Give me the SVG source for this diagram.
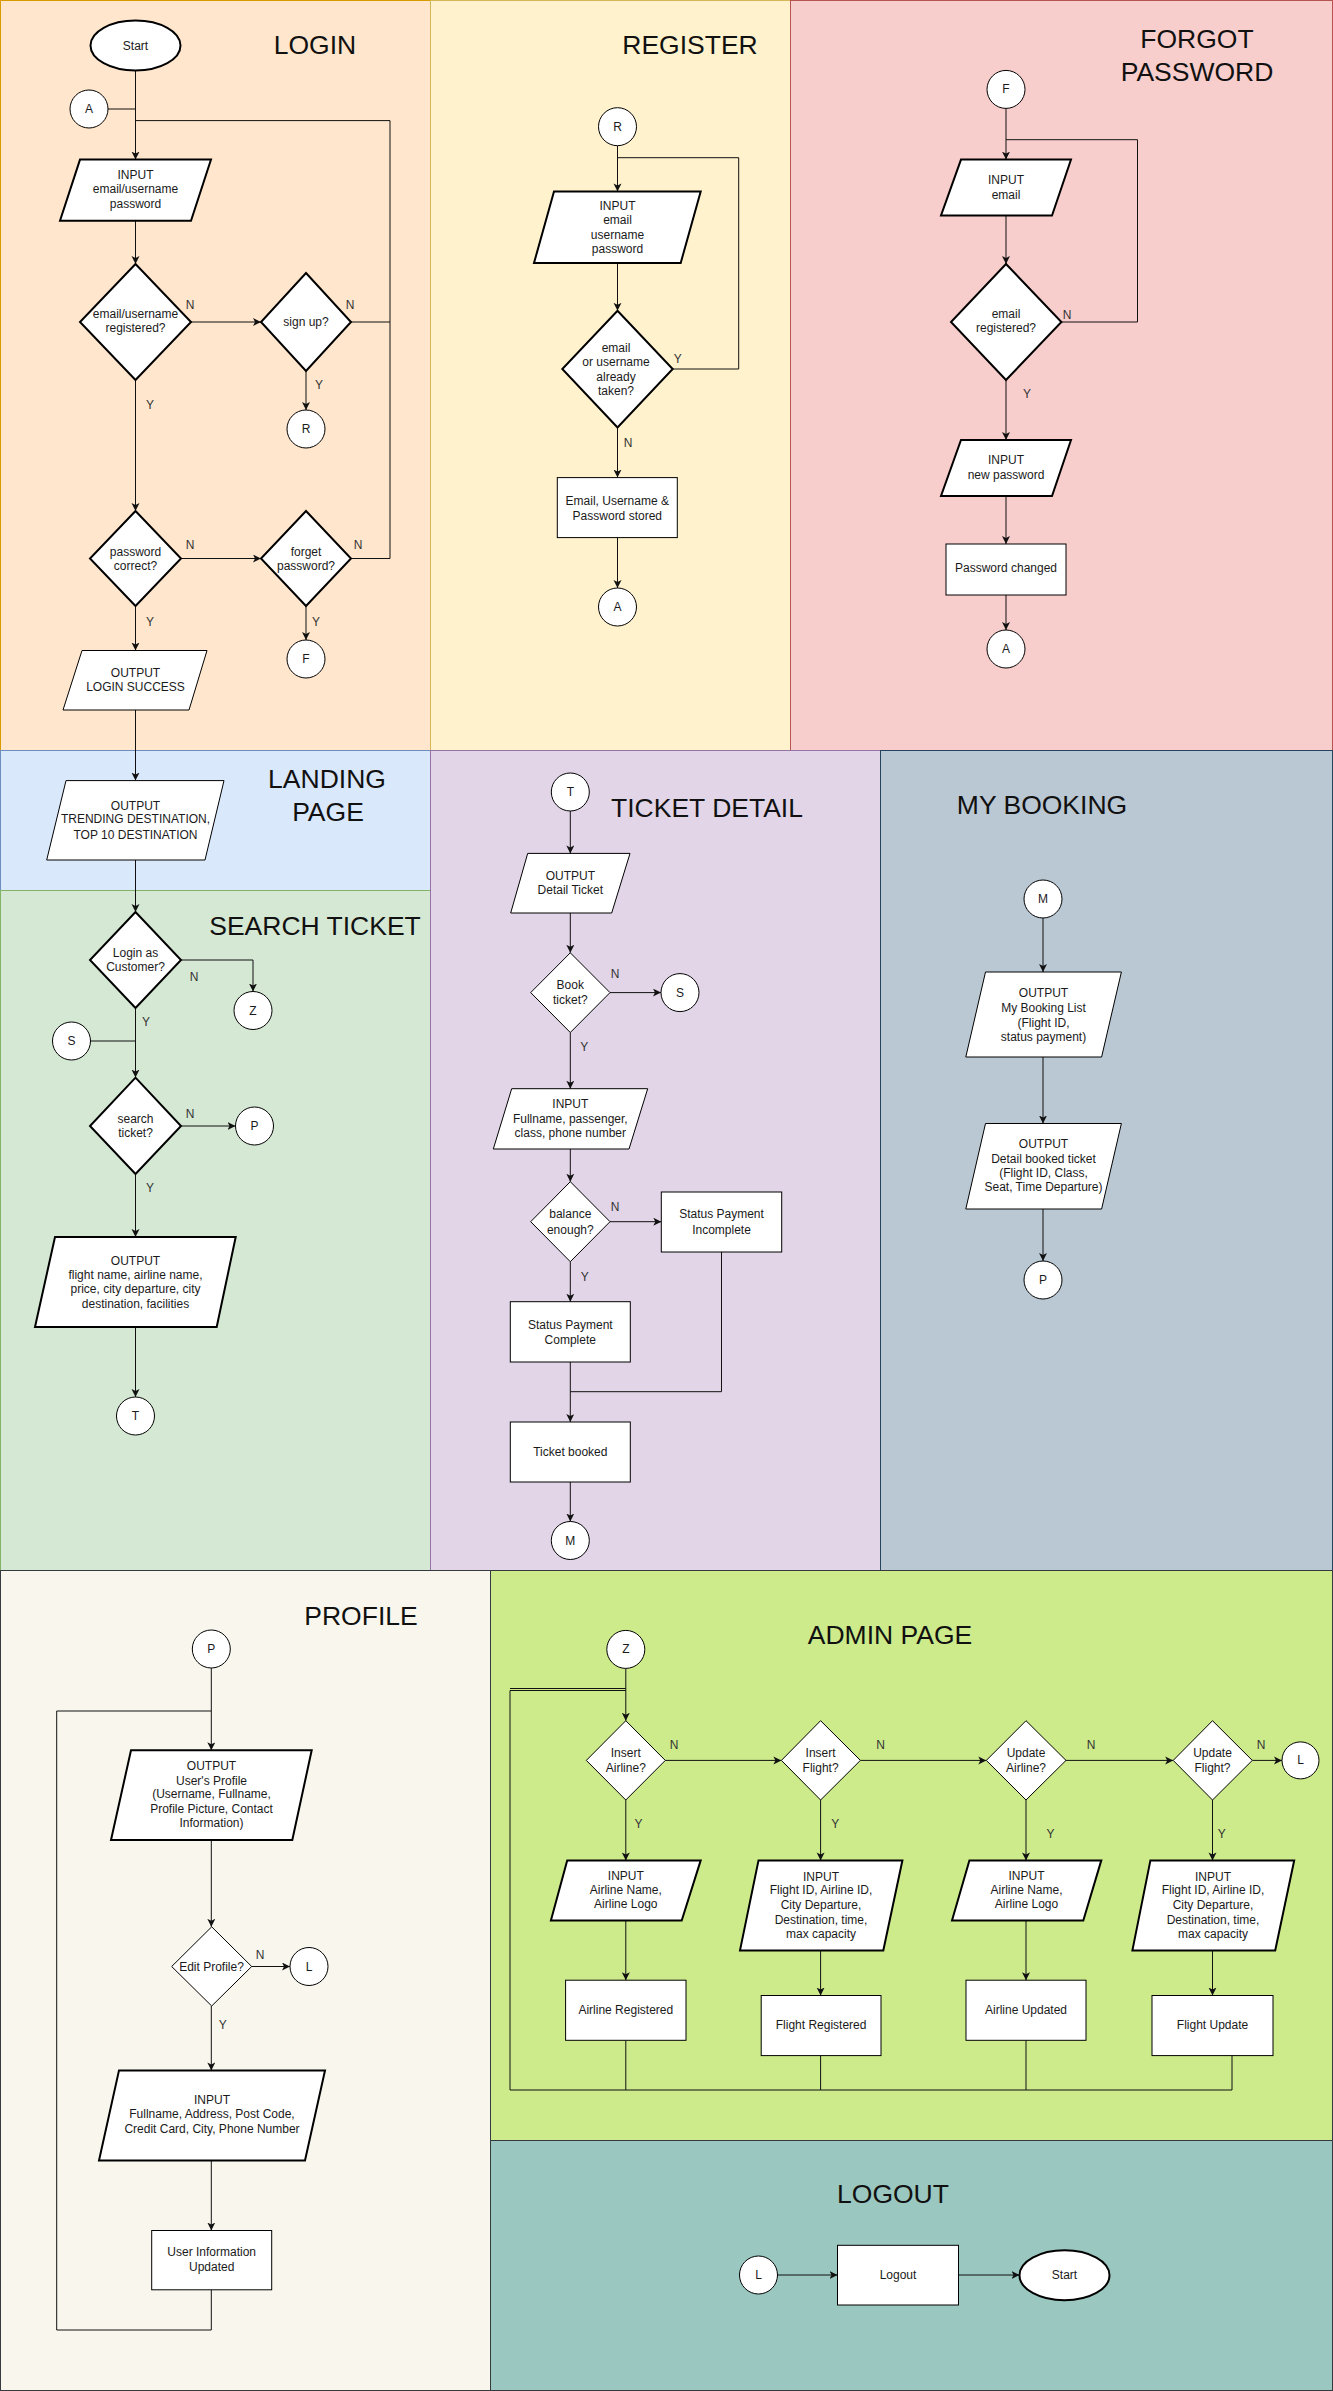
<svg xmlns="http://www.w3.org/2000/svg" width="1333" height="2391" viewBox="0 0 1333 2391">
<style>
.s{fill:#fff;stroke:#000;stroke-width:1}
.k{stroke-width:2}
text{font-family:"Liberation Sans",Arial,Helvetica,sans-serif;fill:#1a1a1a}
.t{font-size:12px;text-anchor:middle}
.l{font-size:12px;text-anchor:middle;fill:#333}
.h{font-size:26.5px;text-anchor:middle;fill:#111}
.e{fill:none;stroke:#111;stroke-width:1}
.a{marker-end:url(#arr)}
</style>
<defs>
<marker id="arr" markerUnits="userSpaceOnUse" markerWidth="10" markerHeight="10" refX="8" refY="4" orient="auto">
<path d="M0,0 L8,4 L0,8 L2,4 z" fill="#111"/>
</marker>
</defs>

<g id="panels">
<rect x="0.5" y="0.5" width="430" height="750" fill="#ffe6cc" stroke="#d79b00"/>
<rect x="430.5" y="0.5" width="360" height="750" fill="#fff2cc" stroke="#d6b656"/>
<rect x="790.5" y="0.5" width="542" height="750" fill="#f8cecc" stroke="#b85450"/>
<rect x="0.5" y="750.5" width="430" height="140" fill="#dae8fc" stroke="#6c8ebf"/>
<rect x="0.5" y="890.5" width="430" height="680" fill="#d5e8d4" stroke="#82b366"/>
<rect x="430.5" y="750.5" width="450" height="820" fill="#e1d5e7" stroke="#9673a6"/>
<rect x="880.5" y="750.5" width="452" height="820" fill="#bac8d3" stroke="#23445d"/>
<rect x="0.5" y="1570.5" width="490" height="820" fill="#f9f7ed" stroke="#36393d"/>
<rect x="490.5" y="1570.5" width="842" height="570" fill="#cdeb8b" stroke="#36393d"/>
<rect x="490.5" y="2140.5" width="842" height="250" fill="#9ac7bf" stroke="#36393d"/>
<text class="h" x="315" y="53.5">LOGIN</text>
<text class="h" x="690" y="53.5">REGISTER</text>
<text class="h" x="1197" y="47.8">FORGOT</text>
<text class="h" x="1197" y="81">PASSWORD</text>
<text class="h" x="327" y="787.5">LANDING</text>
<text class="h" x="328" y="821">PAGE</text>
<text class="h" x="315" y="935">SEARCH TICKET</text>
<text class="h" x="707" y="817">TICKET DETAIL</text>
<text class="h" x="1042" y="814">MY BOOKING</text>
<text class="h" x="361" y="1624.5">PROFILE</text>
<text class="h" x="890" y="1644">ADMIN PAGE</text>
<text class="h" x="893" y="2203">LOGOUT</text>
</g>

<g id="connectors">
<!-- login -->
<path class="e a" d="M135.5,70.5 V159.6"/>
<path class="e" d="M108,109 H135.5"/>
<path class="e" d="M351,322 H390 M351,558.5 H390 V120.6 H135.5"/>
<path class="e a" d="M135.5,220.8 V264"/>
<path class="e a" d="M191,322 H261"/>
<path class="e a" d="M306,371 V410"/>
<path class="e a" d="M135.5,380 V511"/>
<path class="e a" d="M181,558.5 H261"/>
<path class="e a" d="M306,606 V640"/>
<path class="e a" d="M135.5,606 V650.5"/>
<path class="e a" d="M135.5,710 V780.6"/>
<!-- search -->
<path class="e a" d="M135.5,860 V912"/>
<path class="e a" d="M181,960 H253 V991.5"/>
<path class="e" d="M90.5,1041 H135.5"/>
<path class="e a" d="M135.5,1008 V1077.6"/>
<path class="e a" d="M181,1126 H235.5"/>
<path class="e a" d="M135.5,1174 V1237"/>
<path class="e a" d="M135.5,1327 V1397"/>
<!-- register -->
<path class="e a" d="M617.5,145.7 V191.4"/>
<path class="e" d="M672.7,369 H738.7 V157.7 H617.5"/>
<path class="e a" d="M617.5,263 V310.8"/>
<path class="e a" d="M617.5,427.5 V477.6"/>
<path class="e a" d="M617.5,537.6 V588"/>
<!-- forgot -->
<path class="e a" d="M1006,108.4 V159.6"/>
<path class="e" d="M1061.4,322 H1137.5 V139.7 H1006"/>
<path class="e a" d="M1006,215.5 V264"/>
<path class="e a" d="M1006,380 V440"/>
<path class="e a" d="M1006,496 V544"/>
<path class="e a" d="M1006,595 V630"/>
<!-- ticket detail -->
<path class="e a" d="M570.3,811 V853.4"/>
<path class="e a" d="M570.3,913 V952.8"/>
<path class="e a" d="M610,992.6 H661"/>
<path class="e a" d="M570.3,1032.5 V1088.7"/>
<path class="e a" d="M570.3,1149 V1181.7"/>
<path class="e a" d="M610,1221.7 H661.3"/>
<path class="e a" d="M570.3,1261.7 V1301.7"/>
<path class="e a" d="M570.3,1362 V1422"/>
<path class="e" d="M721.5,1252 V1391.7 H570.3"/>
<path class="e a" d="M570.3,1482 V1521.5"/>
<!-- my booking -->
<path class="e a" d="M1043,918 V972"/>
<path class="e a" d="M1043,1057 V1123.5"/>
<path class="e a" d="M1043,1209 V1261"/>
<!-- profile -->
<path class="e a" d="M211.3,1668 V1750.3"/>
<path class="e" d="M211.3,2289.8 V2330 H56.7 V1711 H211.3"/>
<path class="e a" d="M211.3,1840 V1926.8"/>
<path class="e a" d="M251.7,1966.5 H290"/>
<path class="e a" d="M211.3,2006 V2070.4"/>
<path class="e a" d="M211.3,2160.5 V2230.5"/>
<!-- admin -->
<path class="e a" d="M625.8,1668.4 V1720.7"/>
<path class="e" d="M1232,2055.6 V2090 H510 V1690.5 H625.8"/>
<path class="e" d="M510,1688.5 H625.8"/>
<path class="e" d="M625.8,2040.3 V2090 M820.6,2055.6 V2090 M1026,2040.3 V2090"/>
<path class="e a" d="M665.3,1760.4 H781.4"/>
<path class="e a" d="M860.4,1760.4 H986.3"/>
<path class="e a" d="M1066,1760.4 H1173.2"/>
<path class="e a" d="M1252.3,1760.4 H1282"/>
<path class="e a" d="M625.8,1800 V1860.4"/>
<path class="e a" d="M820.6,1800 V1860.4"/>
<path class="e a" d="M1026,1800 V1860.4"/>
<path class="e a" d="M1212.5,1800 V1860.4"/>
<path class="e a" d="M625.8,1920.5 V1980.2"/>
<path class="e a" d="M820.6,1950.4 V1995.5"/>
<path class="e a" d="M1026,1920.5 V1980.2"/>
<path class="e a" d="M1212.5,1950.4 V1995.5"/>
<!-- logout -->
<path class="e a" d="M777.5,2275 H837.5"/>
<path class="e a" d="M958.5,2275 H1019.5"/>
<!-- labels -->
<text class="l" x="190" y="309">N</text>
<text class="l" x="350" y="309">N</text>
<text class="l" x="319" y="389">Y</text>
<text class="l" x="150" y="409">Y</text>
<text class="l" x="190" y="549">N</text>
<text class="l" x="358" y="549">N</text>
<text class="l" x="150" y="626">Y</text>
<text class="l" x="316" y="626">Y</text>
<text class="l" x="194" y="981">N</text>
<text class="l" x="146" y="1026">Y</text>
<text class="l" x="190" y="1117.6">N</text>
<text class="l" x="150" y="1192">Y</text>
<text class="l" x="677.7" y="362.6">Y</text>
<text class="l" x="628" y="446.8">N</text>
<text class="l" x="1067" y="318.6">N</text>
<text class="l" x="1027" y="398">Y</text>
<text class="l" x="615" y="978.3">N</text>
<text class="l" x="584.3" y="1051">Y</text>
<text class="l" x="615" y="1210.7">N</text>
<text class="l" x="584.7" y="1280.7">Y</text>
<text class="l" x="260" y="1959">N</text>
<text class="l" x="222.7" y="2028.8">Y</text>
<text class="l" x="674" y="1749">N</text>
<text class="l" x="880.6" y="1749">N</text>
<text class="l" x="1091" y="1749">N</text>
<text class="l" x="1261" y="1749">N</text>
<text class="l" x="638.6" y="1828">Y</text>
<text class="l" x="835.3" y="1828">Y</text>
<text class="l" x="1050.6" y="1838.4">Y</text>
<text class="l" x="1221.7" y="1838.4">Y</text>
</g>

<!-- LOGIN nodes -->
<g id="login-start"><ellipse class="s k" cx="135.5" cy="45.5" rx="45" ry="25"/><text class="t" x="135.5" y="49.5">Start</text></g>
<g id="login-a"><circle class="s" cx="89" cy="109" r="19"/><text class="t" x="89" y="113">A</text></g>
<g id="login-input"><polygon class="s k" points="80,159.6 211,159.6 191,220.8 60,220.8"/><text class="t" x="135.5" y="179">INPUT</text><text class="t" x="135.5" y="193">email/username</text><text class="t" x="135.5" y="207.5">password</text></g>
<g id="login-registered"><polygon class="s k" points="135.5,264 191,322 135.5,380 80,322"/><text class="t" x="135.5" y="318">email/username</text><text class="t" x="135.5" y="332">registered?</text></g>
<g id="login-signup"><polygon class="s k" points="306,273 351,322 306,371 261,322"/><text class="t" x="306" y="325.5">sign up?</text></g>
<g id="login-r"><circle class="s" cx="306" cy="429" r="19"/><text class="t" x="306" y="433">R</text></g>
<g id="login-password"><polygon class="s k" points="135.5,511 181,558.5 135.5,606 90,558.5"/><text class="t" x="135.5" y="555.5">password</text><text class="t" x="135.5" y="570.4">correct?</text></g>
<g id="login-forget"><polygon class="s k" points="306,511 351,558.5 306,606 261,558.5"/><text class="t" x="306" y="555.5">forget</text><text class="t" x="306" y="570.4">password?</text></g>
<g id="login-f"><circle class="s" cx="306" cy="659" r="19"/><text class="t" x="306" y="663">F</text></g>
<g id="login-success"><polygon class="s" points="82,650.5 207,650.5 189,710 63,710"/><text class="t" x="135.5" y="676.7">OUTPUT</text><text class="t" x="135.5" y="691">LOGIN SUCCESS</text></g>

<!-- LANDING -->
<g id="landing-output"><polygon class="s" points="66,780.6 224,780.6 205,860 46.7,860"/><text class="t" x="135.5" y="809.5">OUTPUT</text><text class="t" x="135.5" y="823">TRENDING DESTINATION,</text><text class="t" x="135.5" y="838.6">TOP 10 DESTINATION</text></g>

<!-- SEARCH -->
<g id="search-customer"><polygon class="s k" points="135.5,912 181,960 135.5,1008 90,960"/><text class="t" x="135.5" y="956.5">Login as</text><text class="t" x="135.5" y="971.4">Customer?</text></g>
<g id="search-z"><circle class="s" cx="253" cy="1010.5" r="19"/><text class="t" x="253" y="1014.5">Z</text></g>
<g id="search-s"><circle class="s" cx="71.5" cy="1041" r="19"/><text class="t" x="71.5" y="1045">S</text></g>
<g id="search-search"><polygon class="s k" points="135.5,1077.6 181,1126 135.5,1174 90,1126"/><text class="t" x="135.5" y="1122.6">search</text><text class="t" x="135.5" y="1137">ticket?</text></g>
<g id="search-p"><circle class="s" cx="254.5" cy="1126" r="19"/><text class="t" x="254.5" y="1130">P</text></g>
<g id="search-output"><polygon class="s k" points="55,1237 235.7,1237 216.7,1327 35,1327"/><text class="t" x="135.5" y="1264.7">OUTPUT</text><text class="t" x="135.5" y="1279">flight name, airline name,</text><text class="t" x="135.5" y="1293">price, city departure, city</text><text class="t" x="135.5" y="1307.7">destination, facilities</text></g>
<g id="search-t"><circle class="s" cx="135.5" cy="1416" r="19"/><text class="t" x="135.5" y="1420">T</text></g>

<!-- REGISTER -->
<g id="reg-r"><circle class="s" cx="617.5" cy="126.7" r="19"/><text class="t" x="617.5" y="130.7">R</text></g>
<g id="reg-input"><polygon class="s k" points="554,191.4 700.7,191.4 680.7,263 534,263"/><text class="t" x="617.5" y="209.5">INPUT</text><text class="t" x="617.5" y="223.7">email</text><text class="t" x="617.5" y="238.6">username</text><text class="t" x="617.5" y="252.8">password</text></g>
<g id="reg-taken"><polygon class="s k" points="617.5,310.8 672.7,369 617.5,427.5 562.3,369"/><text class="t" x="616" y="351.5">email</text><text class="t" x="616" y="365.7">or username</text><text class="t" x="616" y="381">already</text><text class="t" x="616" y="394.7">taken?</text></g>
<g id="reg-stored"><rect class="s" x="557.3" y="477.6" width="120" height="60"/><text class="t" x="617.3" y="504.6">Email, Username &amp;</text><text class="t" x="617.3" y="519.5">Password stored</text></g>
<g id="reg-a"><circle class="s" cx="617.5" cy="607" r="19"/><text class="t" x="617.5" y="611">A</text></g>

<!-- FORGOT -->
<g id="fp-f"><circle class="s" cx="1006" cy="89.4" r="19"/><text class="t" x="1006" y="93.4">F</text></g>
<g id="fp-input"><polygon class="s k" points="961,159.6 1071,159.6 1052,215.5 941,215.5"/><text class="t" x="1006" y="183.5">INPUT</text><text class="t" x="1006" y="198.8">email</text></g>
<g id="fp-registered"><polygon class="s k" points="1006,264 1061.4,322 1006,380 951,322"/><text class="t" x="1006" y="317.8">email</text><text class="t" x="1006" y="332.4">registered?</text></g>
<g id="fp-newpass"><polygon class="s k" points="961,440 1071,440 1052,496 941,496"/><text class="t" x="1006" y="464.4">INPUT</text><text class="t" x="1006" y="479.3">new password</text></g>
<g id="fp-changed"><rect class="s" x="946" y="544" width="120" height="51"/><text class="t" x="1006" y="572.3">Password changed</text></g>
<g id="fp-a"><circle class="s" cx="1006" cy="649" r="19"/><text class="t" x="1006" y="653">A</text></g>

<!-- TICKET DETAIL -->
<g id="td-t"><circle class="s" cx="570.3" cy="792" r="19"/><text class="t" x="570.3" y="796">T</text></g>
<g id="td-output"><polygon class="s" points="527.7,853.4 630,853.4 611.7,913 510.7,913"/><text class="t" x="570.3" y="879.5">OUTPUT</text><text class="t" x="570.3" y="894">Detail Ticket</text></g>
<g id="td-book"><polygon class="s" points="570.3,952.8 610,992.6 570.3,1032.5 530.7,992.6"/><text class="t" x="570.3" y="989.4">Book</text><text class="t" x="570.3" y="1004.3">ticket?</text></g>
<g id="td-s"><circle class="s" cx="680" cy="992.6" r="19"/><text class="t" x="680" y="996.6">S</text></g>
<g id="td-input"><polygon class="s" points="511.7,1088.7 647.7,1088.7 629,1149 493.3,1149"/><text class="t" x="570.3" y="1108.4">INPUT</text><text class="t" x="570.3" y="1123">Fullname, passenger,</text><text class="t" x="570.3" y="1137">class, phone number</text></g>
<g id="td-balance"><polygon class="s" points="570.3,1181.7 610,1221.7 570.3,1261.7 530.7,1221.7"/><text class="t" x="570.3" y="1218.3">balance</text><text class="t" x="570.3" y="1233.7">enough?</text></g>
<g id="td-incomplete"><rect class="s" x="661.3" y="1192" width="120.4" height="60"/><text class="t" x="721.5" y="1218.3">Status Payment</text><text class="t" x="721.5" y="1233.7">Incomplete</text></g>
<g id="td-complete"><rect class="s" x="510.3" y="1301.7" width="120" height="60.3"/><text class="t" x="570.3" y="1328.7">Status Payment</text><text class="t" x="570.3" y="1343.7">Complete</text></g>
<g id="td-booked"><rect class="s" x="510.3" y="1422" width="120" height="60"/><text class="t" x="570.3" y="1455.7">Ticket booked</text></g>
<g id="td-m"><circle class="s" cx="570.3" cy="1540.5" r="19"/><text class="t" x="570.3" y="1544.5">M</text></g>

<!-- MY BOOKING -->
<g id="mb-m"><circle class="s" cx="1043" cy="899" r="19"/><text class="t" x="1043" y="903">M</text></g>
<g id="mb-list"><polygon class="s" points="985.5,972 1121.4,972 1101.6,1057 965.8,1057"/><text class="t" x="1043.5" y="997.4">OUTPUT</text><text class="t" x="1043.5" y="1011.6">My Booking List</text><text class="t" x="1043.5" y="1027">(Flight ID,</text><text class="t" x="1043.5" y="1040.7">status payment)</text></g>
<g id="mb-detail"><polygon class="s" points="985.5,1123.5 1121.4,1123.5 1101.6,1209 965.8,1209"/><text class="t" x="1043.5" y="1148.2">OUTPUT</text><text class="t" x="1043.5" y="1162.7">Detail booked ticket</text><text class="t" x="1043.5" y="1177.3">(Flight ID, Class,</text><text class="t" x="1043.5" y="1191.4">Seat, Time Departure)</text></g>
<g id="mb-p"><circle class="s" cx="1043" cy="1280" r="19"/><text class="t" x="1043" y="1284">P</text></g>

<!-- PROFILE -->
<g id="pr-p"><circle class="s" cx="211.3" cy="1649" r="19"/><text class="t" x="211.3" y="1653">P</text></g>
<g id="pr-output"><polygon class="s k" points="131,1750.3 311.7,1750.3 292.3,1840 111,1840"/><text class="t" x="211.5" y="1770">OUTPUT</text><text class="t" x="211.5" y="1784.5">User's Profile</text><text class="t" x="211.5" y="1798">(Username, Fullname,</text><text class="t" x="211.5" y="1813">Profile Picture, Contact</text><text class="t" x="211.5" y="1827.4">Information)</text></g>
<g id="pr-edit"><polygon class="s" points="211.7,1926.8 251.7,1966.5 211.7,2006 171.7,1966.5"/><text class="t" x="211.5" y="1970.5">Edit Profile?</text></g>
<g id="pr-l"><circle class="s" cx="309" cy="1966.5" r="19"/><text class="t" x="309" y="1970.5">L</text></g>
<g id="pr-input"><polygon class="s k" points="119,2070.4 325,2070.4 305,2160.5 99,2160.5"/><text class="t" x="212" y="2104">INPUT</text><text class="t" x="212" y="2118.4">Fullname, Address, Post Code,</text><text class="t" x="212" y="2133.2">Credit Card, City, Phone Number</text></g>
<g id="pr-updated"><rect class="s" x="151.7" y="2230.5" width="120" height="59.3"/><text class="t" x="211.7" y="2256">User Information</text><text class="t" x="211.7" y="2271">Updated</text></g>

<!-- ADMIN -->
<g id="ad-z"><circle class="s" cx="625.8" cy="1649.4" r="19"/><text class="t" x="625.8" y="1653.4">Z</text></g>
<g id="ad-d1"><polygon class="s" points="625.8,1720.7 665.3,1760.4 625.8,1800 586.3,1760.4"/><text class="t" x="625.8" y="1756.5">Insert</text><text class="t" x="625.8" y="1771.8">Airline?</text></g>
<g id="ad-d2"><polygon class="s" points="820.6,1720.7 860.4,1760.4 820.6,1800 781.4,1760.4"/><text class="t" x="820.6" y="1756.5">Insert</text><text class="t" x="820.6" y="1771.8">Flight?</text></g>
<g id="ad-d3"><polygon class="s" points="1026,1720.7 1066,1760.4 1026,1800 986.3,1760.4"/><text class="t" x="1026" y="1756.5">Update</text><text class="t" x="1026" y="1771.8">Airline?</text></g>
<g id="ad-d4"><polygon class="s" points="1212.5,1720.7 1252.3,1760.4 1212.5,1800 1173.2,1760.4"/><text class="t" x="1212.5" y="1756.5">Update</text><text class="t" x="1212.5" y="1771.8">Flight?</text></g>
<g id="ad-l"><circle class="s" cx="1300.5" cy="1760.4" r="18.5"/><text class="t" x="1300.5" y="1764.4">L</text></g>
<g id="ad-in1"><polygon class="s k" points="567.2,1860.4 700.7,1860.4 681.7,1920.5 550.9,1920.5"/><text class="t" x="625.8" y="1879.7">INPUT</text><text class="t" x="625.8" y="1893.5">Airline Name,</text><text class="t" x="625.8" y="1908.4">Airline Logo</text></g>
<g id="ad-in2"><polygon class="s k" points="758.5,1860.4 902.4,1860.4 883.3,1950.4 740,1950.4"/><text class="t" x="821" y="1880.5">INPUT</text><text class="t" x="821" y="1894.3">Flight ID, Airline ID,</text><text class="t" x="821" y="1908.8">City Departure,</text><text class="t" x="821" y="1923.7">Destination, time,</text><text class="t" x="821" y="1937.9">max capacity</text></g>
<g id="ad-in3"><polygon class="s k" points="969.4,1860.4 1101.3,1860.4 1083.3,1920.5 952,1920.5"/><text class="t" x="1026.5" y="1879.7">INPUT</text><text class="t" x="1026.5" y="1893.5">Airline Name,</text><text class="t" x="1026.5" y="1908.4">Airline Logo</text></g>
<g id="ad-in4"><polygon class="s k" points="1150.4,1860.4 1294.2,1860.4 1275.2,1950.4 1132.4,1950.4"/><text class="t" x="1213" y="1880.5">INPUT</text><text class="t" x="1213" y="1894.3">Flight ID, Airline ID,</text><text class="t" x="1213" y="1908.8">City Departure,</text><text class="t" x="1213" y="1923.7">Destination, time,</text><text class="t" x="1213" y="1937.9">max capacity</text></g>
<g id="ad-r1"><rect class="s" x="565.6" y="1980.2" width="120.4" height="60.1"/><text class="t" x="625.8" y="2013.7">Airline Registered</text></g>
<g id="ad-r2"><rect class="s" x="761.2" y="1995.5" width="119.8" height="60.1"/><text class="t" x="821.1" y="2029">Flight Registered</text></g>
<g id="ad-r3"><rect class="s" x="966" y="1980.2" width="120" height="60.1"/><text class="t" x="1026" y="2013.7">Airline Updated</text></g>
<g id="ad-r4"><rect class="s" x="1152" y="1995.5" width="121" height="60.1"/><text class="t" x="1212.5" y="2029">Flight Update</text></g>

<!-- LOGOUT -->
<g id="lo-l"><circle class="s" cx="758.5" cy="2275" r="19"/><text class="t" x="758.5" y="2279">L</text></g>
<g id="lo-logout"><rect class="s" x="837.5" y="2245.3" width="121" height="59.7"/><text class="t" x="898" y="2279">Logout</text></g>
<g id="lo-start"><ellipse class="s k" cx="1064.5" cy="2275.3" rx="45" ry="25"/><text class="t" x="1064.5" y="2279.3">Start</text></g>
</svg>
